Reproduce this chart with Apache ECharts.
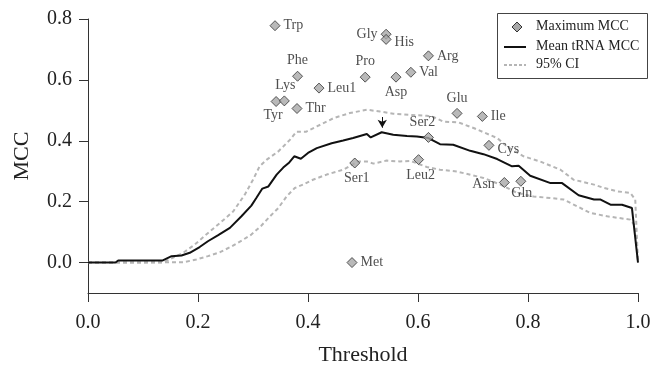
<!DOCTYPE html>
<html>
<head>
<meta charset="utf-8">
<script src="https://cdn.jsdelivr.net/npm/echarts@6.0.0/dist/echarts.min.js"></script>
<style>
  html, body { margin: 0; padding: 0; background: #fff; }
  #chart { width: 650px; height: 365px; }
</style>
</head>
<body>
<div id="chart"></div>
<script>
// maximum MCC per tRNA
const aminoNames = ['Trp', 'Tyr', 'Lys', 'Thr', 'Phe', 'Leu1', 'Pro', 'Gly', 'His', 'Asp', 'Val', 'Arg',
  'Glu', 'Ile', 'Ser2', 'Ser1', 'Leu2', 'Cys', 'Asn', 'Gln', 'Met']
const aminoX = [0.340, 0.342, 0.357, 0.380, 0.381, 0.420, 0.504, 0.542, 0.542, 0.560, 0.587, 0.619,
  0.671, 0.717, 0.619, 0.485, 0.601, 0.729, 0.757, 0.787, 0.480]
const aminoY = [0.778, 0.529, 0.531, 0.506, 0.612, 0.573, 0.609, 0.750, 0.733, 0.609, 0.625, 0.679,
  0.490, 0.480, 0.411, 0.327, 0.338, 0.385, 0.263, 0.267, 0.000]

// mean tRNA MCC
const meanX = [0, 0.050, 0.055, 0.136, 0.152, 0.170, 0.185, 0.203, 0.218, 0.236, 0.258, 0.279, 0.297, 0.306,
  0.317, 0.328, 0.343, 0.355, 0.366, 0.375, 0.387, 0.400, 0.416, 0.443, 0.464, 0.482, 0.507, 0.514, 0.534,
  0.555, 0.580, 0.598, 0.619, 0.640, 0.664, 0.695, 0.719, 0.744, 0.771, 0.783, 0.804, 0.841, 0.862, 0.892,
  0.920, 0.932, 0.950, 0.971, 0.989, 1.0]
const meanY = [0, 0, 0.007, 0.007, 0.021, 0.023, 0.032, 0.051, 0.070, 0.089, 0.114, 0.152, 0.187, 0.212,
  0.243, 0.250, 0.289, 0.312, 0.329, 0.349, 0.341, 0.360, 0.376, 0.392, 0.401, 0.409, 0.422, 0.411, 0.428,
  0.420, 0.416, 0.414, 0.409, 0.389, 0.387, 0.367, 0.356, 0.340, 0.316, 0.318, 0.285, 0.261, 0.261, 0.221,
  0.207, 0.207, 0.190, 0.190, 0.179, 0]

// 95% CI
const ciUpX = [0, 0.136, 0.148, 0.173, 0.194, 0.215, 0.240, 0.264, 0.285, 0.300, 0.312, 0.325, 0.346, 0.367,
  0.379, 0.397, 0.416, 0.446, 0.476, 0.507, 0.531, 0.555, 0.586, 0.616, 0.628, 0.646, 0.674, 0.701, 0.744,
  0.762, 0.792, 0.822, 0.859, 0.883, 0.920, 0.938, 0.962, 0.986, 0.995, 1.0]
const ciUpY = [0, 0, 0.010, 0.032, 0.059, 0.092, 0.130, 0.168, 0.223, 0.272, 0.316, 0.338, 0.365, 0.403,
  0.430, 0.430, 0.447, 0.474, 0.491, 0.502, 0.496, 0.489, 0.485, 0.482, 0.478, 0.463, 0.460, 0.442, 0.409,
  0.381, 0.349, 0.332, 0.305, 0.272, 0.256, 0.245, 0.234, 0.229, 0.207, 0]
const ciLoX = [0, 0.173, 0.197, 0.218, 0.240, 0.261, 0.282, 0.297, 0.315, 0.331, 0.346, 0.361, 0.376, 0.391,
  0.403, 0.409, 0.434, 0.464, 0.491, 0.507, 0.519, 0.543, 0.567, 0.586, 0.616, 0.640, 0.671, 0.719, 0.750,
  0.780, 0.810, 0.841, 0.865, 0.889, 0.913, 0.944, 0.986, 0.995, 1.0]
const ciLoY = [0, 0.001, 0.010, 0.021, 0.034, 0.053, 0.075, 0.092, 0.121, 0.152, 0.179, 0.217, 0.245, 0.256,
  0.267, 0.272, 0.289, 0.305, 0.332, 0.332, 0.325, 0.335, 0.332, 0.334, 0.314, 0.305, 0.299, 0.278, 0.256,
  0.229, 0.217, 0.212, 0.207, 0.185, 0.163, 0.152, 0.141, 0.119, 0]

const xTicks = [0, 0.2, 0.4, 0.6, 0.8, 1.0]
const yTicks = [0, 0.2, 0.4, 0.6, 0.8]
const legendNames = ['Maximum MCC', 'Mean tRNA MCC', '95% CI']

// arrow at peak of mean curve
const peakX = 0.535
const arrowFrom = 0.478
const arrowTo = 0.443

const serif = '"Liberation Serif", "DejaVu Serif", serif'
const ink = '#222'
const diamondFill = '#a8a8a8'
const ciColor = '#b5b5b5'

// where each label sits next to its diamond
const labelSide = {
  Trp: ['right'], Tyr: ['bottom', [-3, -2]], Lys: ['top', [1, 0]], Thr: ['right'], Phe: ['top'],
  Leu1: ['right'], Pro: ['top'], Gly: ['left'], His: ['right', [0, 3]], Asp: ['bottom'],
  Val: ['right'], Arg: ['right'], Glu: ['top'], Ile: ['right'], Ser2: ['top', [-6, 0]],
  Ser1: ['bottom', [2, 0]], Leu2: ['bottom', [2, 0]], Cys: ['right', [0, 4]], Asn: ['left', [-1, 2]],
  Gln: ['bottom', [1, -3]], Met: ['right']
}

const zip = (xs, ys) => xs.map((x, i) => [x, ys[i]])

const scatterData = aminoNames.map((n, i) => {
  const side = labelSide[n] || ['right']
  return {
    name: n,
    value: [aminoX[i], aminoY[i]],
    label: { position: side[0], offset: side[1] || [0, 0] }
  }
})

const ciStyle = { color: ciColor, width: 2, type: [4, 3] }

// boxed legend, drawn by hand so the diamond keeps its size
const legX = 497, legY = 13, legW = 150, legH = 65
const rowY = [27, 47, 65]
const legendGraphic = [
  { type: 'rect', left: legX, top: legY, shape: { width: legW, height: legH },
    style: { fill: '#fff', stroke: '#444', lineWidth: 1 }, z: 10 },
  { type: 'polygon', z: 11,
    shape: { points: [[517, rowY[0] - 5], [522, rowY[0]], [517, rowY[0] + 5], [512, rowY[0]]] },
    style: { fill: diamondFill, stroke: '#333', lineWidth: 1 } },
  { type: 'line', z: 11, shape: { x1: 504, y1: rowY[1], x2: 526, y2: rowY[1] },
    style: { stroke: '#111', lineWidth: 2 } },
  { type: 'line', z: 11, shape: { x1: 504, y1: rowY[2], x2: 526, y2: rowY[2] },
    style: { stroke: ciColor, lineWidth: 2, lineDash: [3, 2] } }
].concat(legendNames.map((t, i) => ({
  type: 'text', z: 11, left: 536, top: rowY[i] - 8,
  style: { text: t, font: '14px ' + serif, fill: ink }
})))

const option = {
  animation: false,
  textStyle: { fontFamily: serif },
  grid: { left: 88, right: 12, top: 19, bottom: 72, containLabel: false, outerBoundsMode: 'none' },
  graphic: legendGraphic,
  xAxis: {
    type: 'value', min: 0, max: 1, interval: 0.2,
    name: 'Threshold', nameLocation: 'middle', nameGap: 51,
    nameTextStyle: { fontFamily: serif, fontSize: 22, color: ink },
    axisLine: { show: true, onZero: false, lineStyle: { color: '#333', width: 1 } },
    axisTick: { show: true, length: 9, lineStyle: { color: '#333' } },
    axisLabel: { margin: 20, fontSize: 20, color: ink, fontFamily: serif,
      customValues: xTicks, formatter: v => v.toFixed(1) },
    splitLine: { show: false }
  },
  yAxis: {
    type: 'value', min: -0.1, max: 0.8,
    name: 'MCC', nameLocation: 'middle', nameGap: 55,
    nameTextStyle: { fontFamily: serif, fontSize: 22, color: ink },
    axisLine: { show: true, onZero: false, lineStyle: { color: '#333', width: 1 } },
    axisTick: { show: true, length: 9, lineStyle: { color: '#333' }, customValues: yTicks },
    axisLabel: { margin: 16, fontSize: 20, color: ink, fontFamily: serif,
      customValues: yTicks, formatter: v => v.toFixed(1) },
    splitLine: { show: false }
  },
  series: [
    {
      name: '95% CI', type: 'line', data: zip(ciUpX, ciUpY),
      symbol: 'none', lineStyle: ciStyle, z: 2
    },
    {
      name: '95% CI', type: 'line', data: zip(ciLoX, ciLoY),
      symbol: 'none', lineStyle: ciStyle, z: 2
    },
    {
      name: 'Mean tRNA MCC', type: 'line', data: zip(meanX, meanY),
      symbol: 'none', lineStyle: { color: '#111', width: 2 }, z: 3,
      markLine: {
        silent: true, symbol: ['none', 'arrow'], symbolSize: [7, 8],
        label: { show: false },
        lineStyle: { color: '#111', width: 1, type: 'solid' },
        data: [[{ coord: [peakX, arrowFrom] }, { coord: [peakX, arrowTo] }]]
      }
    },
    {
      name: 'Maximum MCC', type: 'scatter', data: scatterData,
      symbol: 'diamond', symbolSize: 10,
      itemStyle: { color: diamondFill, borderColor: '#333', borderWidth: 1 },
      label: { show: true, formatter: '{b}', fontFamily: serif, fontSize: 14, color: ink, distance: 3 },
      z: 5
    }
  ]
}

const chart = echarts.init(document.getElementById('chart'), null, { renderer: 'canvas' })
chart.setOption(option)
</script>
</body>
</html>
